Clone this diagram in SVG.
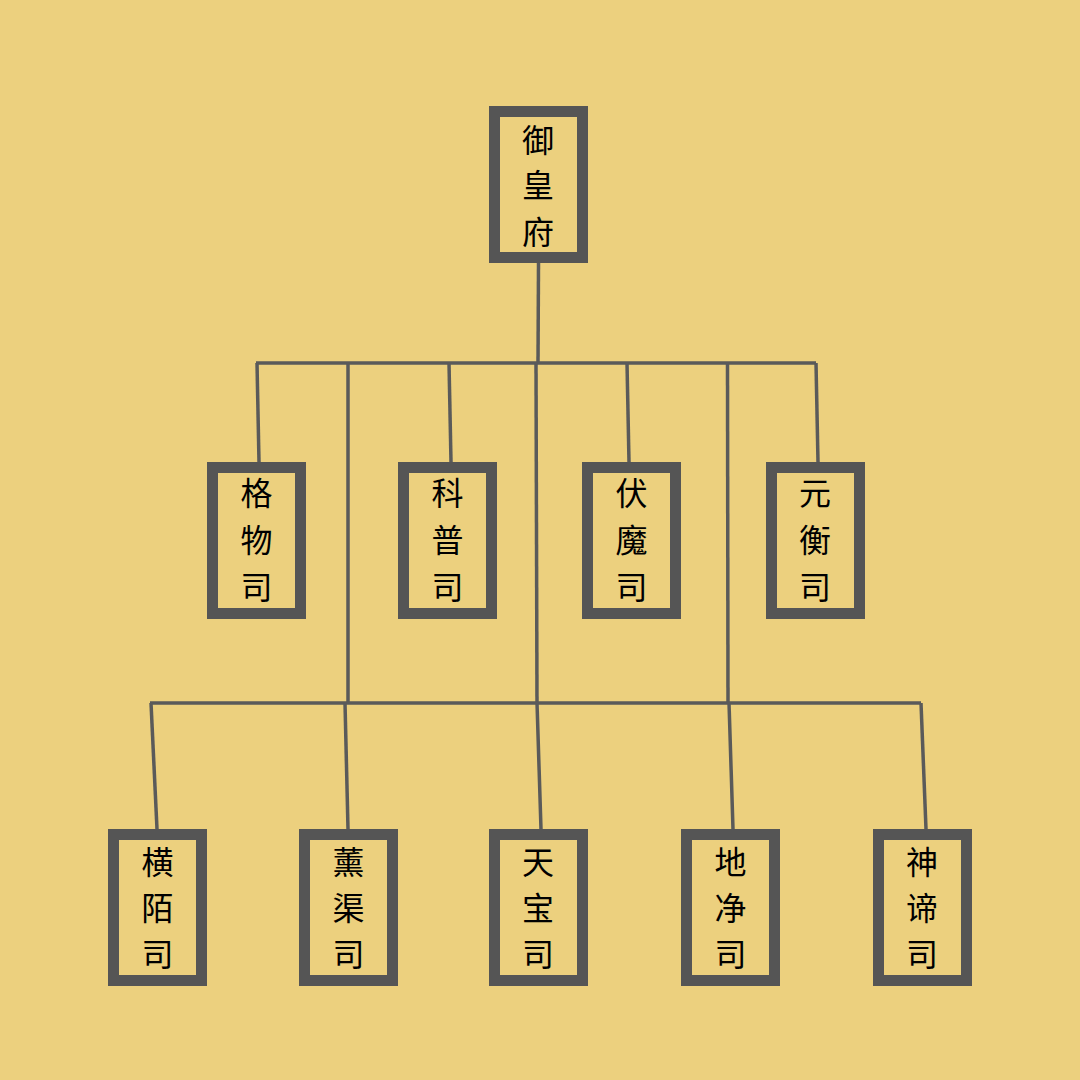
<svg xmlns="http://www.w3.org/2000/svg" width="1080" height="1080" viewBox="0 0 1080 1080">
<style>
.box{fill:#ecd07e;stroke:#555555;stroke-width:11}
.lbl{font-family:"Noto Sans CJK SC","Noto Sans CJK TC",sans-serif;font-size:32px;fill:#000;text-anchor:middle}
.ln{stroke:#5a5a5a;stroke-width:3.5;fill:none;stroke-linecap:butt}
</style>
<rect width="1080" height="1080" fill="#ecd07e"/>
<g id="connectors">
<line class="ln" x1="538.5" y1="263" x2="538" y2="363"/>
<line class="ln" x1="256" y1="363" x2="816" y2="363"/>
<line class="ln" x1="257" y1="363" x2="259" y2="462"/>
<line class="ln" x1="449" y1="363" x2="451" y2="462"/>
<line class="ln" x1="627" y1="363" x2="629" y2="462"/>
<line class="ln" x1="816" y1="363" x2="818" y2="462"/>
<line class="ln" x1="348" y1="363" x2="348" y2="703"/>
<line class="ln" x1="536" y1="363" x2="537" y2="703"/>
<line class="ln" x1="727.5" y1="363" x2="728" y2="703"/>
<line class="ln" x1="150" y1="703" x2="921" y2="703"/>
<line class="ln" x1="151" y1="703" x2="157" y2="829"/>
<line class="ln" x1="345" y1="703" x2="348" y2="829"/>
<line class="ln" x1="537" y1="703" x2="541" y2="829"/>
<line class="ln" x1="729" y1="703" x2="733" y2="829"/>
<line class="ln" x1="921" y1="703" x2="926" y2="829"/>
</g>
<g id="n-yuhuangfu">
<rect class="box" x="494.5" y="111.5" width="88" height="146"/>
<text class="lbl" x="538" y="152">御</text>
<text class="lbl" x="538" y="197">皇</text>
<text class="lbl" x="538" y="244">府</text>
</g>
<g id="n-gewusi">
<rect class="box" x="212.5" y="467.5" width="88" height="146"/>
<text class="lbl" x="256.5" y="505">格</text>
<text class="lbl" x="256.5" y="552">物</text>
<text class="lbl" x="256.5" y="599">司</text>
</g>
<g id="n-kepusi">
<rect class="box" x="403.5" y="467.5" width="88" height="146"/>
<text class="lbl" x="447.5" y="505">科</text>
<text class="lbl" x="447.5" y="552">普</text>
<text class="lbl" x="447.5" y="599">司</text>
</g>
<g id="n-fumosi">
<rect class="box" x="587.5" y="467.5" width="88" height="146"/>
<text class="lbl" x="631.5" y="505">伏</text>
<text class="lbl" x="631.5" y="552">魔</text>
<text class="lbl" x="631.5" y="599">司</text>
</g>
<g id="n-yuanhengsi">
<rect class="box" x="771.5" y="467.5" width="88" height="146"/>
<text class="lbl" x="815" y="505">元</text>
<text class="lbl" x="815" y="552">衡</text>
<text class="lbl" x="815" y="599">司</text>
</g>
<g id="n-hengmosi">
<rect class="box" x="113.5" y="834.5" width="88" height="146"/>
<text class="lbl" x="157.5" y="874">横</text>
<text class="lbl" x="157.5" y="920">陌</text>
<text class="lbl" x="157.5" y="966">司</text>
</g>
<g id="n-xunqusi">
<rect class="box" x="304.5" y="834.5" width="88" height="146"/>
<text class="lbl" x="348.5" y="874">薰</text>
<text class="lbl" x="348.5" y="920">渠</text>
<text class="lbl" x="348.5" y="966">司</text>
</g>
<g id="n-tianbaosi">
<rect class="box" x="494.5" y="834.5" width="88" height="146"/>
<text class="lbl" x="538" y="874">天</text>
<text class="lbl" x="538" y="920">宝</text>
<text class="lbl" x="538" y="966">司</text>
</g>
<g id="n-dijingsi">
<rect class="box" x="686.5" y="834.5" width="88" height="146"/>
<text class="lbl" x="730.5" y="874">地</text>
<text class="lbl" x="730.5" y="920">净</text>
<text class="lbl" x="730.5" y="966">司</text>
</g>
<g id="n-shendisi">
<rect class="box" x="878.5" y="834.5" width="88" height="146"/>
<text class="lbl" x="922" y="874">神</text>
<text class="lbl" x="922" y="920">谛</text>
<text class="lbl" x="922" y="966">司</text>
</g>
</svg>
